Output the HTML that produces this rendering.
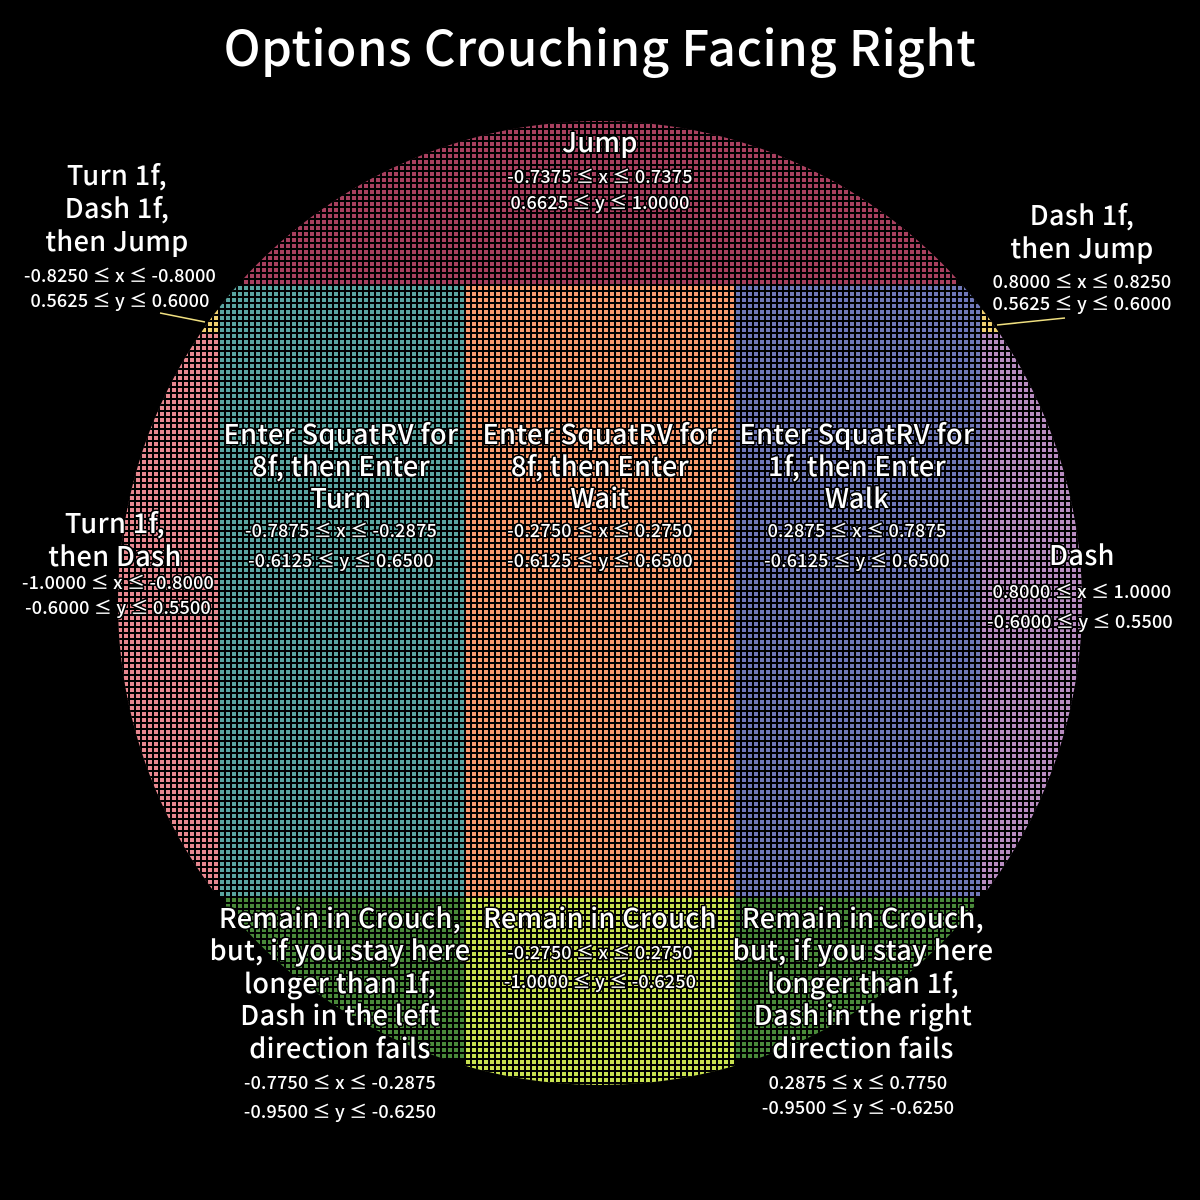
<!DOCTYPE html>
<html><head><style>body{margin:0;background:#000}svg{display:block}
text{font-family:"Noto Sans CJK JP","Liberation Sans",sans-serif;fill:#fff;text-anchor:middle;paint-order:stroke;stroke:#000;stroke-width:3px;stroke-linejoin:round}
.b{font-size:27px;font-weight:500;letter-spacing:0.4px}.s{font-size:18px;font-weight:500;letter-spacing:0.2px}
</style></head><body>
<svg width="1200" height="1200" viewBox="0 0 1200 1200">
<defs>
<clipPath id="c"><circle cx="600" cy="603" r="482"/></clipPath>
<pattern id="g" x="4" y="4" width="6" height="6" patternUnits="userSpaceOnUse">
<rect x="4" y="0" width="2" height="6" fill="#000"/><rect x="0" y="4" width="6" height="2" fill="#000"/></pattern>
</defs>
<g clip-path="url(#c)">
<rect x="243" y="110" width="714" height="175" fill="#a8405f"/>
<rect x="219" y="285" width="246" height="612" fill="#5aa5a0"/>
<rect x="465" y="285" width="270" height="612" fill="#f99a6e"/>
<rect x="735" y="285" width="246" height="612" fill="#7078b8"/>
<rect x="110" y="333" width="109" height="558" fill="#e88890"/>
<rect x="981" y="333" width="110" height="558" fill="#b88cc0"/>
<rect x="201" y="309" width="18" height="24" fill="#f0d070"/>
<rect x="981" y="309" width="18" height="24" fill="#f0d070"/>
<rect x="225" y="897" width="240" height="162" fill="#4a8a3a"/>
<rect x="735" y="897" width="240" height="162" fill="#4a8a3a"/>
<rect x="465" y="897" width="270" height="190" fill="#c8e050"/>
<rect x="0" y="0" width="1200" height="1200" fill="url(#g)"/>
</g>
<line x1="160" y1="313" x2="205" y2="322" stroke="#f0e080" stroke-width="1.5"/>
<line x1="997" y1="325" x2="1065" y2="318" stroke="#f0e080" stroke-width="1.5"/>
<text x="600" y="66" style="font-size:49px;font-weight:500;letter-spacing:0.6px;stroke:none">Options Crouching Facing Right</text>
<text class="b" x="600" y="152">Jump</text>
<text class="s" x="600" y="183">-0.7375 ≤ x ≤ 0.7375</text>
<text class="s" x="600" y="209">0.6625 ≤ y ≤ 1.0000</text>
<text class="b" x="117" y="185">Turn 1f,</text>
<text class="b" x="117" y="218">Dash 1f,</text>
<text class="b" x="117" y="251">then Jump</text>
<text class="s" x="120" y="282">-0.8250 ≤ x ≤ -0.8000</text>
<text class="s" x="120" y="307">0.5625 ≤ y ≤ 0.6000</text>
<text class="b" x="1082" y="225">Dash 1f,</text>
<text class="b" x="1082" y="258">then Jump</text>
<text class="s" x="1082" y="288">0.8000 ≤ x ≤ 0.8250</text>
<text class="s" x="1082" y="310">0.5625 ≤ y ≤ 0.6000</text>
<text class="b" x="341" y="444">Enter SquatRV for</text>
<text class="b" x="341" y="476">8f, then Enter</text>
<text class="b" x="341" y="508">Turn</text>
<text class="s" x="341" y="537">-0.7875 ≤ x ≤ -0.2875</text>
<text class="s" x="341" y="567">-0.6125 ≤ y ≤ 0.6500</text>
<text class="b" x="600" y="444">Enter SquatRV for</text>
<text class="b" x="600" y="476">8f, then Enter</text>
<text class="b" x="600" y="508">Wait</text>
<text class="s" x="600" y="537">-0.2750 ≤ x ≤ 0.2750</text>
<text class="s" x="600" y="567">-0.6125 ≤ y ≤ 0.6500</text>
<text class="b" x="857" y="444">Enter SquatRV for</text>
<text class="b" x="857" y="476">1f, then Enter</text>
<text class="b" x="857" y="508">Walk</text>
<text class="s" x="857" y="537">0.2875 ≤ x ≤ 0.7875</text>
<text class="s" x="857" y="567">-0.6125 ≤ y ≤ 0.6500</text>
<text class="b" x="115" y="533">Turn 1f,</text>
<text class="b" x="115" y="566">then Dash</text>
<text class="s" x="118" y="589">-1.0000 ≤ x ≤ -0.8000</text>
<text class="s" x="118" y="614">-0.6000 ≤ y ≤ 0.5500</text>
<text class="b" x="1082" y="565">Dash</text>
<text class="s" x="1082" y="598">0.8000 ≤ x ≤ 1.0000</text>
<text class="s" x="1080" y="628">-0.6000 ≤ y ≤ 0.5500</text>
<text class="b" x="340" y="928">Remain in Crouch,</text>
<text class="b" x="340" y="960">but, if you stay here</text>
<text class="b" x="340" y="993">longer than 1f,</text>
<text class="b" x="340" y="1025">Dash in the left</text>
<text class="b" x="340" y="1058">direction fails</text>
<text class="s" x="340" y="1089">-0.7750 ≤ x ≤ -0.2875</text>
<text class="s" x="340" y="1118">-0.9500 ≤ y ≤ -0.6250</text>
<text class="b" x="600" y="928">Remain in Crouch</text>
<text class="s" x="600" y="959">-0.2750 ≤ x ≤ 0.2750</text>
<text class="s" x="600" y="988">-1.0000 ≤ y ≤ -0.6250</text>
<text class="b" x="863" y="928">Remain in Crouch,</text>
<text class="b" x="863" y="960">but, if you stay here</text>
<text class="b" x="863" y="993">longer than 1f,</text>
<text class="b" x="863" y="1025">Dash in the right</text>
<text class="b" x="863" y="1058">direction fails</text>
<text class="s" x="858" y="1089">0.2875 ≤ x ≤ 0.7750</text>
<text class="s" x="858" y="1114">-0.9500 ≤ y ≤ -0.6250</text>
</svg>
</body></html>
